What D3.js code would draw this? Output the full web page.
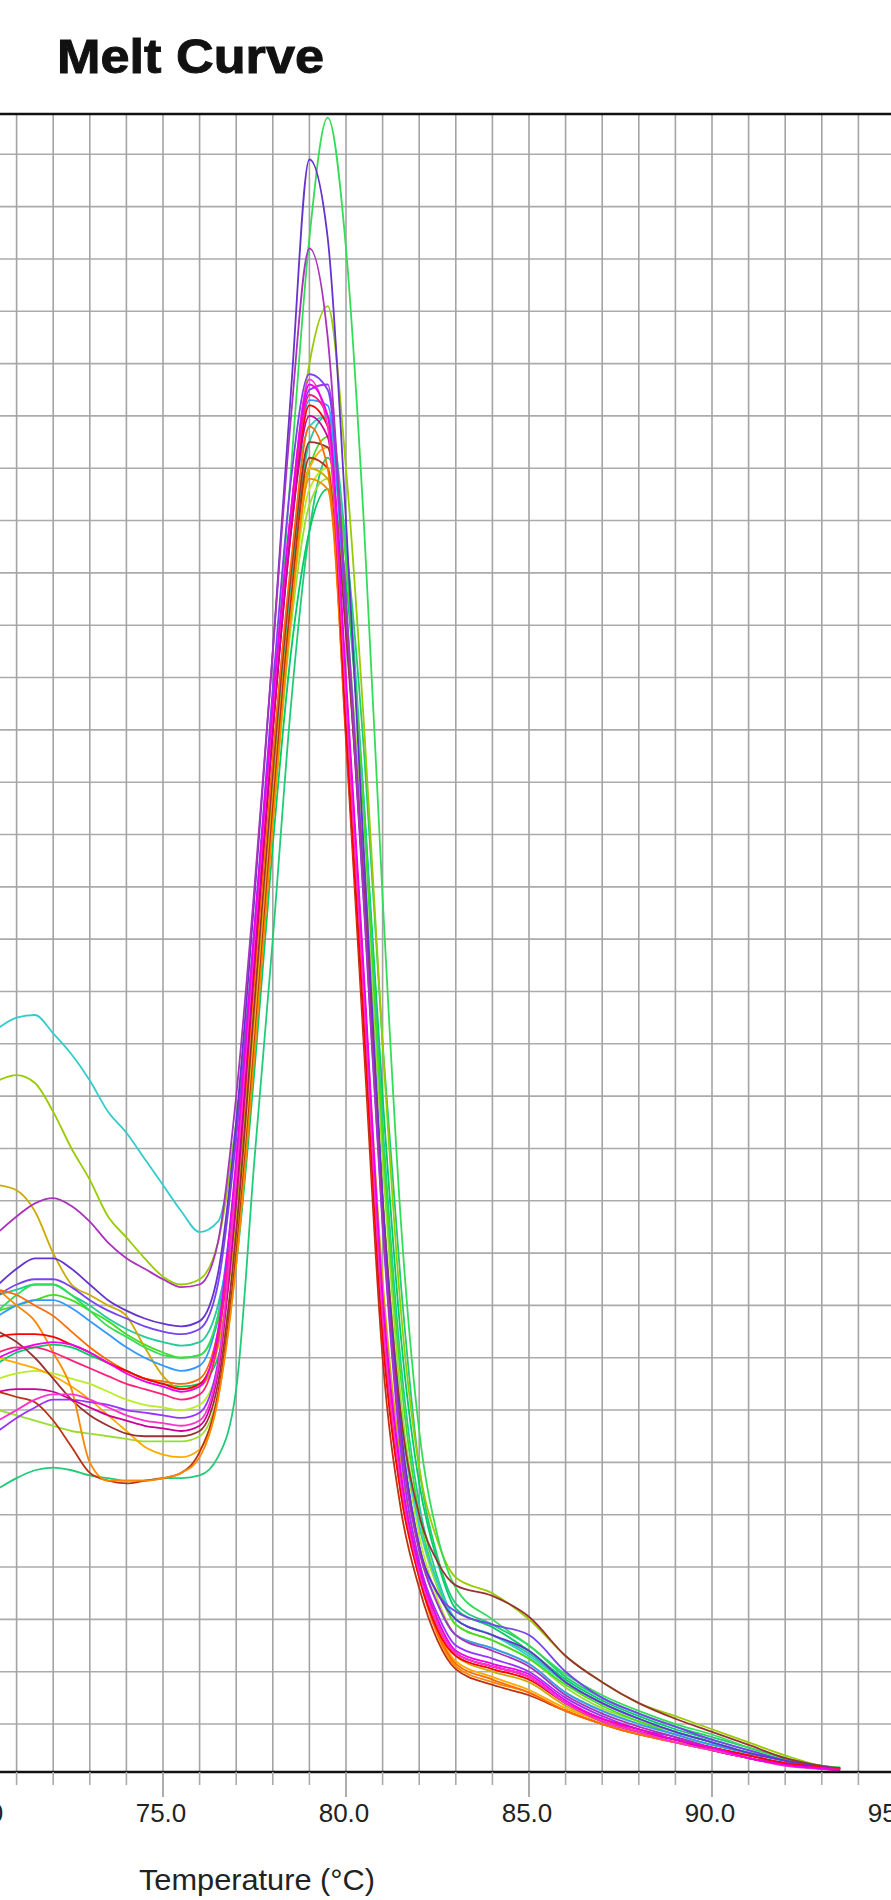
<!DOCTYPE html>
<html><head><meta charset="utf-8">
<script src="https://cdn.jsdelivr.net/npm/d3@7"></script>
<style>html,body{margin:0;padding:0;background:#fff;} svg{display:block;}</style>
</head><body>
<svg id="chart" width="891" height="1900"></svg>
<script>
// Temperature points (°C)
const temps = [70.5,71,71.5,72,72.5,73,73.5,74,74.5,75,75.5,76,76.5,77,77.5,78,78.5,79,79.5,80,80.5,81,81.5,82,82.5,83,84,85,86,87,88,89,90,91,92,93,93.5];

// -d(RFU)/dT per well (chart units)
const wellCyan      = [133,135,135.5,132,128,123,117,113,108,103,98,94,96,115,152,195,230,248,250,212,160,100,59,38,27,20, 17,13,8,4,1,-1.5,-3.5,-5.5,-7,-8, -8.5];
const wellYellowGrn = [123,124,122.5,117,110,104,97,93,89,85.5,84,85,92,115,150,190,232,260,271,240,190,130,79,49,35,28, 25,20,13,8,4,1.5,-1,-3.5,-6,-8, -8.5];
const wellGold      = [103,102,98,90,84,82,80,78,72,66.5,64,64.5,72,96,136,178,215,240,238,195,140,85,50,31,20,13, 10,8,3.5,0.5,-1.5,-3,-4.5,-6,-7.5,-8.3, -8.6];
const wellOrange    = [83,80,77,71,64,50,46.5,46.5,46.5,47,48,51,62,88,128,172,212,238,236,190,132,75,44,28,17,11, 8,6,2.5,0,-2,-3.5,-5,-6.5,-7.8,-8.5, -8.8];
const wellBrown     = [63.5,62.5,61.5,58,53,48,46.5,46,46.5,47,48,52,63,90,130,175,215,242,240,188,128,70,41,26,16,10.5, 7.5,5.5,2.5,0,-2,-3.5,-5,-6.5,-7.8,-8.4, -8.7];
const wellTealLow   = [45,47,48.5,49,48.5,47.5,47,46.5,46.5,47,47,47.5,51,64,108,150,195,228,242,225,185,130,84,49,32,23, 19,15,9,5,2,-0.5,-2.5,-4.5,-6.5,-8, -8.4];
const wellGreenTall = [79,82,84,84,82,79,76,74,72,70.5,70,70.5,78,100,145,192,240,284,307,282,228,158,96,56,36,26, 20,15,9.5,5.5,2.5,0,-2,-4.5,-6.5,-8, -8.3];
const wellPurpleTall= [84,87,89,89,87,84,81,79,77.5,76.5,76,77,86,115,158,205,255,299,284,230,165,100,56,34,25,20, 17,14,8,4,1,-1.5,-3.5,-5.5,-7,-8.2, -8.5];
const wellPlum      = [94,97,99.5,100.5,99,96,92,89,87,85,83.5,84,92,120,160,205,250,282,265,214,156,96,54,33,23,17, 14,11,5.5,2,-0.5,-2.5,-4.5,-6,-7.5,-8.3, -8.6];
const wellIndigo    = [82,84,85,85,83.5,81,79,77.5,76,75,74.5,75.5,84,112,152,198,238,258,255,215,160,100,56,34,25,21.5, 19,17,10,5,2,-0.5,-3,-5,-7,-8.2, -8.5];
const wellTeal      = [82,83,84,84,82,80,77.5,75.5,74,73,72.3,73,80,100,138,180,218,245,250,225,175,115,69,42,28,20, 17,13.5,8,4,1,-1.5,-3.5,-5.5,-7,-8.2, -8.5];
const wellGreen     = [79,80,81,82,81,79,77,74.5,72.5,71,70,70.5,77,98,136,178,215,240,246,222,172,112,66,40,27,19, 16,12.5,7.5,3.5,0.5,-2,-4,-5.5,-7,-8.2, -8.5];
const wellOrange2   = [83,82,80,78,75,72,69.5,67.5,66,65.5,65,66,75,100,142,185,222,248,240,192,134,76,45,28,17.5,11.5, 8.5,6,2.5,0,-2,-3.5,-5,-6.5,-7.8,-8.5, -8.8];
const wellRed       = [74,74.5,74.5,74,72.5,71,69,67.5,66,65,64,65,74,102,145,190,228,252,248,190,132,74,44,28,18,13, 10.5,8.5,4,1,-1,-3,-4.5,-6,-7.5,-8.3, -8.6];
const wellMagenta   = [70,71.5,72.5,73,72.5,71,69,67,65.5,64.5,63.5,64.5,75,108,152,195,232,256,250,200,142,82,48,30,20,14, 11.5,9.5,4.5,1,-1,-3,-4.5,-6.5,-7.8,-8.5, -8.8];
const wellPinkRed   = [71,72,72,71,69.5,68,66.5,65,64,63,62,63,73,104,148,192,230,254,250,196,138,78,46,29,19,13.5, 11,9,4,1,-1.5,-3,-5,-6.5,-7.8,-8.4, -8.7];
const wellLime      = [66,67,67.5,67,66,65,63.5,62,61,60.5,60,61,68,92,132,175,212,236,240,210,160,102,59,36,24,17, 14.5,11.5,6,2.5,0,-2,-4,-5.5,-7,-8.2, -8.5];
const wellViolet    = [56,58.5,60.5,62,62,61.5,61,60,59.5,59,58.5,59.5,69,100,145,190,230,255,256,212,155,95,52,31,21,15, 12.5,10,5,1.5,-1,-2.5,-4.5,-6,-7.5,-8.3, -8.6];
const wellMagenta2  = [63.5,64,64,63.5,62,60.5,59,58,57,56.5,56,57,67,100,146,190,228,250,246,198,140,80,47,29.5,19,13.5, 11,9,4,0.5,-1.5,-3,-5,-6.5,-7.8,-8.5, -8.8];
const wellYellowGrn2= [60,59,58,57,56,55.5,55,54.5,54,54,54,55,63,88,130,172,210,233,238,212,165,108,62,38,26,19, 16,12.5,7,3,0.5,-1.5,-3.5,-5.5,-7,-8.2, -8.5];
const wellRedBrown  = [75,73,70,66,62,59,57,55.5,55,55,55,56,65,94,138,182,220,245,244,208,158,100,59,40,31,26.5, 24.5,20.5,13,8,4,1,-1.5,-4,-6.5,-8, -8.5];
const wellBlue      = [78,80,81,81,79.5,77,74.5,72,70,68.5,67.5,68.5,78,106,148,192,230,253,252,212,158,98,56,34,23,17, 14.5,11.5,6,2.5,0,-2,-4,-5.5,-7,-8.2, -8.5];
const wellGreen2    = [69,71,72,72.5,72,70.5,69,67.5,66,65,64.5,65,70,88,125,168,205,228,236,218,175,120,74,46,31,22, 18.5,14,8.5,4.5,1.5,-1,-3,-5,-6.8,-8, -8.4];
const wellPink      = [58,60,62,63,63,62,60.5,59,58,57.5,57,58,68,104,150,194,232,257,248,196,138,78,46,29,19,13.5, 11,9,4,0.5,-1.5,-3.5,-5,-6.5,-8,-8.6, -8.9];
const wellAmber     = [70,69,68,66.5,64.5,62,59,56,53,51.5,51,52.5,62,90,132,176,215,240,244,198,140,80,47,29,18,12, 9,6.5,3,0.5,-1.5,-3,-4.5,-6,-7.5,-8.3, -8.6];

const majorTicks = [70, 75, 80, 85, 90, 95];
const minorTicks = [71,72,73,74,76,77,78,79,81,82,83,84,86,87,88,89,91,92,93,94];
const gridTemps  = [71,72,73,74,75,76,77,78,79,80,81,82,83,84,85,86,87,88,89,90,91,92,93,94];
const gridValues = d3.range(0, 301, 10);

const wells = [
  {c:"#22cc77", v:wellTealLow},
  {c:"#00cc66", v:wellGreen2},
  {c:"#99dd33", v:wellYellowGrn2},
  {c:"#bbee22", v:wellLime},
  {c:"#22cc99", v:wellTeal},
  {c:"#44dd22", v:wellGreen},
  {c:"#33cccc", v:wellCyan},
  {c:"#99cc00", v:wellYellowGrn},
  {c:"#ccaa00", v:wellGold},
  {c:"#ffaa00", v:wellAmber},
  {c:"#3399ff", v:wellBlue},
  {c:"#33dd55", v:wellGreenTall},
  {c:"#7744ee", v:wellIndigo},
  {c:"#9933ff", v:wellViolet},
  {c:"#993333", v:wellRedBrown},
  {c:"#bb3311", v:wellBrown},
  {c:"#ff8800", v:wellOrange},
  {c:"#ff6a00", v:wellOrange2},
  {c:"#6633cc", v:wellPurpleTall},
  {c:"#aa33bb", v:wellPlum},
  {c:"#ff0000", v:wellRed},
  {c:"#ff2277", v:wellPinkRed},
  {c:"#cc0099", v:wellMagenta2},
  {c:"#ff33cc", v:wellPink},
  {c:"#ee00ee", v:wellMagenta}
];

const svg = d3.select("#chart");
const x = d3.scaleLinear().domain([75, 80]).range([163, 346]);
const y = d3.scaleLinear().domain([-9.17, 307.7]).range([1772, 114]);
const plotTop = y(307.7), plotBottom = y(-9.17);

// gridlines
svg.append("g").selectAll("line").data(gridValues).join("line")
  .attr("x1", 0).attr("x2", 891).attr("y1", d => y(d)).attr("y2", d => y(d))
  .attr("stroke", "#ababab").attr("stroke-width", 1.6);
svg.append("g").selectAll("line").data(gridTemps).join("line")
  .attr("x1", d => x(d)).attr("x2", d => x(d)).attr("y1", plotTop).attr("y2", plotBottom)
  .attr("stroke", "#a4a4a4").attr("stroke-width", 1.6);

// curves
svg.append("defs").append("clipPath").attr("id", "plotclip")
  .append("rect").attr("x", 0).attr("y", plotTop).attr("width", 891).attr("height", plotBottom - plotTop);
const line = d3.line().x((d, i) => x(temps[i])).y(d => y(d)).curve(d3.curveMonotoneX);
svg.append("g").attr("clip-path", "url(#plotclip)").selectAll("path").data(wells).join("path")
  .attr("d", d => line(d.v)).attr("fill", "none").attr("stroke", d => d.c)
  .attr("stroke-width", 1.8).attr("stroke-linejoin", "round");

// frame lines
svg.append("line").attr("x1", 0).attr("x2", 891).attr("y1", plotTop).attr("y2", plotTop)
  .attr("stroke", "#111").attr("stroke-width", 2.6);
svg.append("line").attr("x1", 0).attr("x2", 891).attr("y1", plotBottom).attr("y2", plotBottom)
  .attr("stroke", "#111").attr("stroke-width", 2.6);

// ticks
svg.append("g").selectAll("line").data(majorTicks).join("line")
  .attr("x1", d => x(d)).attr("x2", d => x(d)).attr("y1", plotBottom).attr("y2", plotBottom + 25)
  .attr("stroke", "#999").attr("stroke-width", 1.6);
svg.append("g").selectAll("line").data(minorTicks).join("line")
  .attr("x1", d => x(d)).attr("x2", d => x(d)).attr("y1", plotBottom).attr("y2", plotBottom + 13)
  .attr("stroke", "#aaa").attr("stroke-width", 1.6);

svg.append("g").selectAll("text").data(majorTicks).join("text")
  .attr("x", d => x(d) - 2).attr("y", 1822).attr("text-anchor", "middle")
  .attr("font-family", "'Liberation Sans', Arial, sans-serif").attr("font-size", 26).attr("fill", "#222")
  .text(d => d3.format(".1f")(d));

svg.append("text").attr("x", 139).attr("y", 1890)
  .attr("font-family", "'Liberation Sans', Arial, sans-serif").attr("font-size", 30).attr("fill", "#222")
  .attr("textLength", 236).attr("lengthAdjust", "spacingAndGlyphs")
  .text("Temperature (°C)");

svg.append("text").attr("x", 57).attr("y", 73)
  .attr("font-family", "'Liberation Sans', Arial, sans-serif").attr("font-weight", "bold")
  .attr("font-size", 49).attr("fill", "#111").attr("stroke", "#111").attr("stroke-width", 1)
  .attr("textLength", 267).attr("lengthAdjust", "spacingAndGlyphs")
  .text("Melt Curve");
</script>
</body></html>
